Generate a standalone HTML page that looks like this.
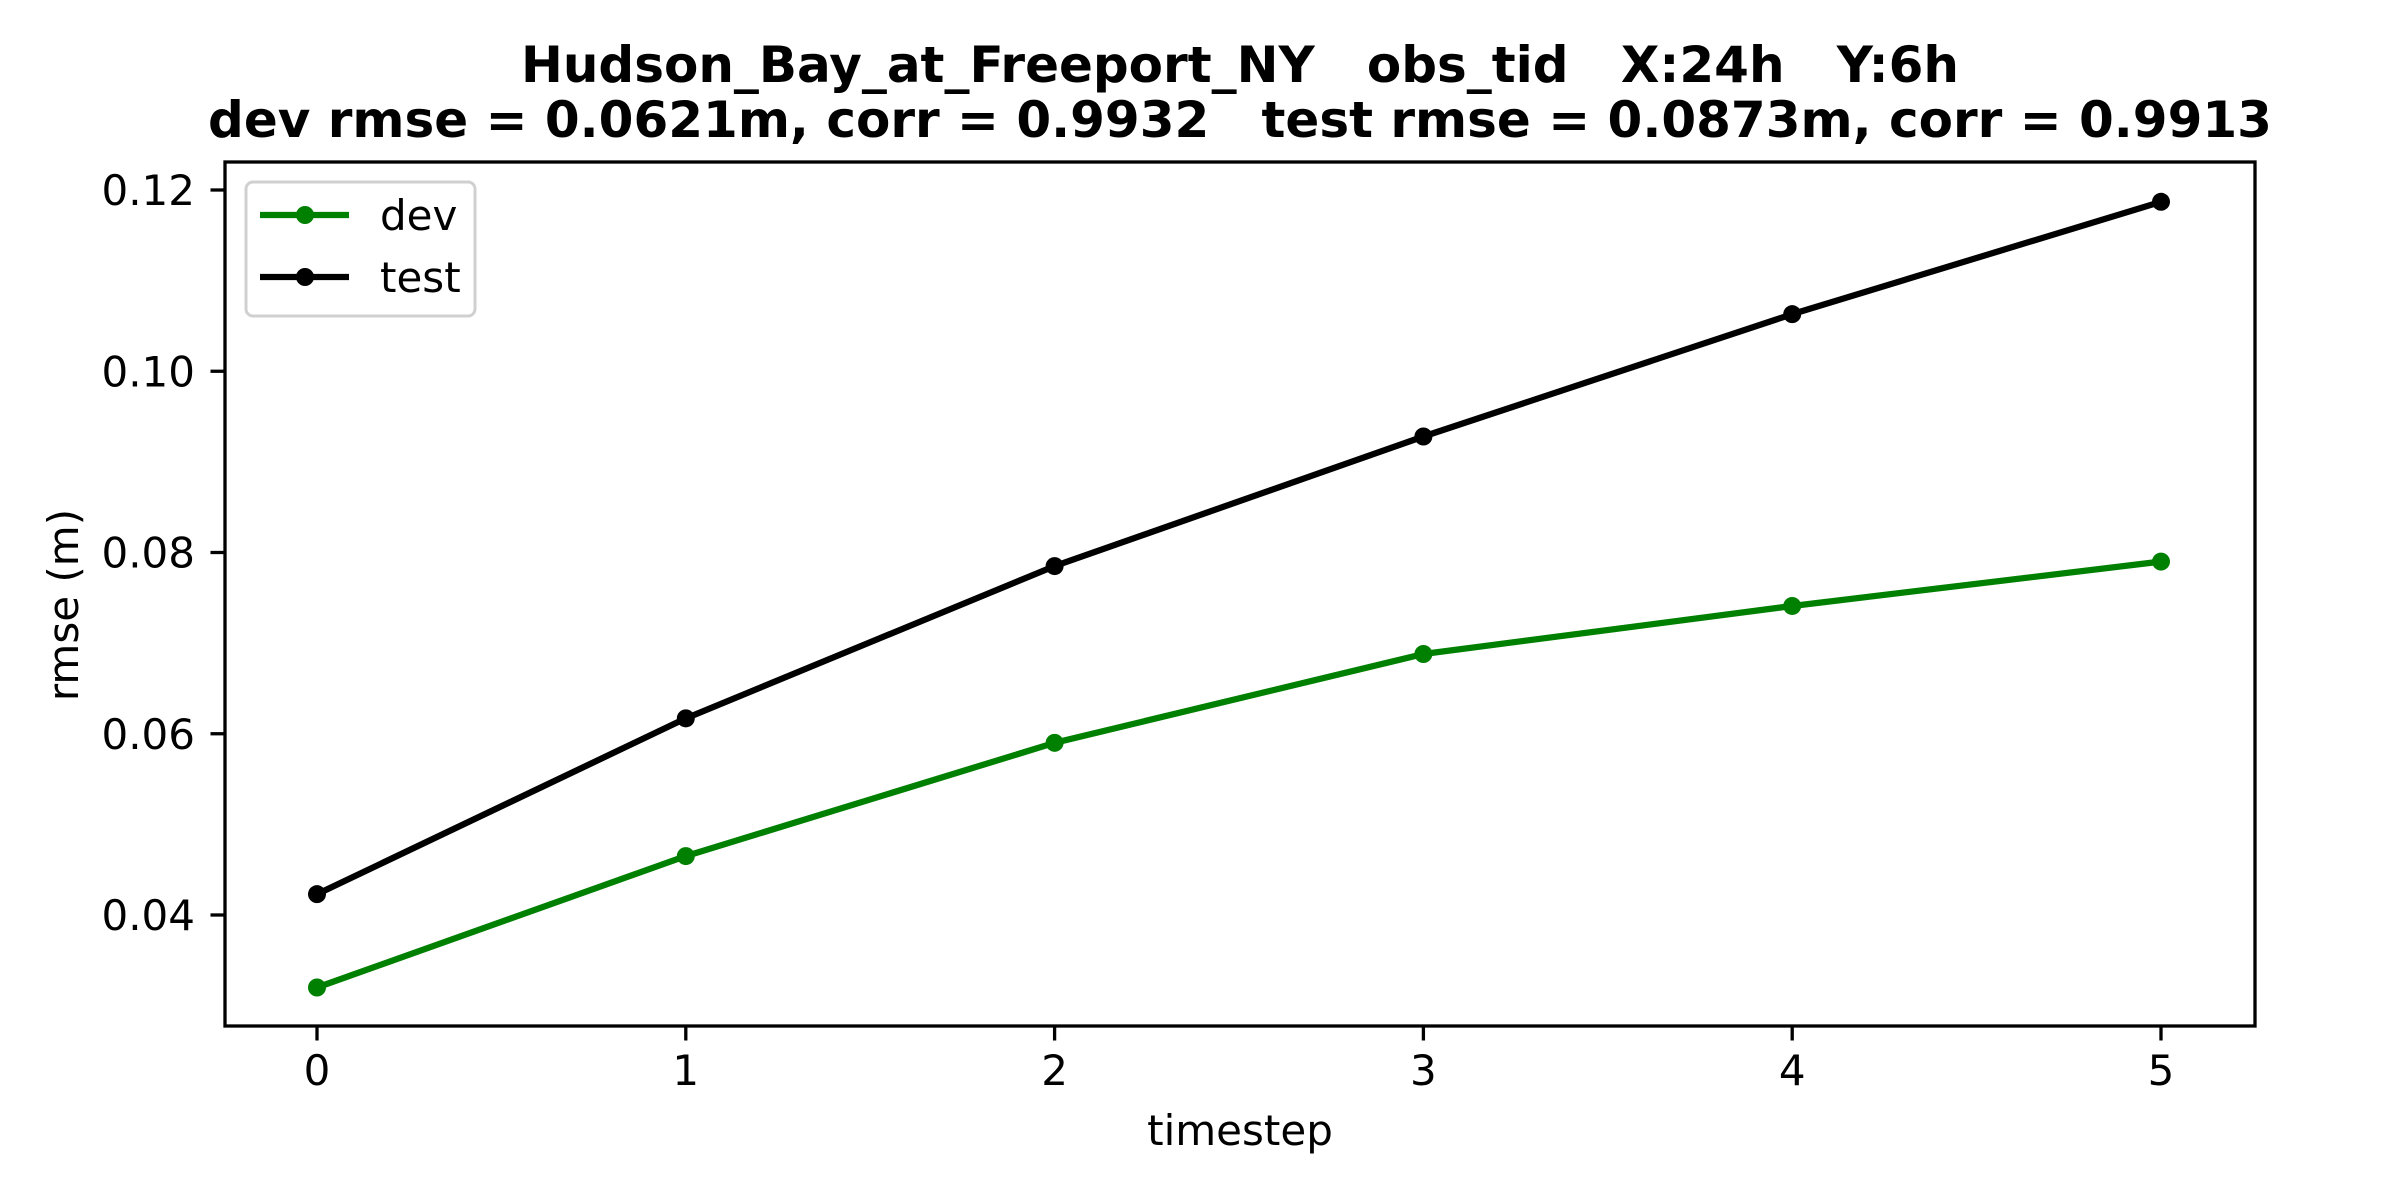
<!DOCTYPE html>
<html><head><meta charset="utf-8"><style>
html,body{margin:0;padding:0;background:#fff;}
svg{display:block;font-family:"DejaVu Sans","Liberation Sans",sans-serif;}
svg text{white-space:pre;}
</style></head><body>
<svg id="chart" width="2400" height="1200" viewBox="0 0 2400 1200">
<rect width="2400" height="1200" fill="#fff"/>
<text x="1240" y="82" text-anchor="middle" font-size="50" font-weight="bold" xml:space="preserve">Hudson_Bay_at_Freeport_NY   obs_tid   X:24h   Y:6h</text>
<text x="1240" y="137" text-anchor="middle" font-size="50" font-weight="bold" xml:space="preserve">dev rmse = 0.0621m, corr = 0.9932   test rmse = 0.0873m, corr = 0.9913</text>
<g id="grid"></g>
<text x="1240" y="1145" text-anchor="middle" font-size="42">timestep</text>
<text transform="translate(78,605) rotate(-90)" text-anchor="middle" font-size="42">rmse (m)</text>
<g>
<rect x="246" y="182" width="229" height="134" rx="7" fill="#fff" fill-opacity="0.8" stroke="#d0d0d0" stroke-width="3"/>
<g>
<line x1="260" y1="215" x2="349" y2="215" stroke="#008000" stroke-width="6.25"/>
<circle cx="305" cy="215" r="9" fill="#008000"/>
<text x="380" y="230" font-size="42">dev</text></g>
<g>
<line x1="260" y1="277" x2="349" y2="277" stroke="#000" stroke-width="6.25"/>
<circle cx="305" cy="277" r="9" fill="#000"/>
<text x="380" y="292" font-size="42">test</text></g>
</g>
</svg>
<script>
const categories = [0, 1, 2, 3, 4, 5];
const devValues = [0.0320, 0.0465, 0.0590, 0.0688, 0.0741, 0.0790];
const testValues = [0.0423, 0.0617, 0.0785, 0.0928, 0.1063, 0.1187];
const yTicks = [0.04, 0.06, 0.08, 0.10, 0.12];
const yTickLabels = ["0.04", "0.06", "0.08", "0.10", "0.12"];
const xTickLabels = ["0", "1", "2", "3", "4", "5"];

const L = 225, R = 2255, T = 162, B = 1026;
const NS = "http://www.w3.org/2000/svg";
function xs(v){ return 317 + (v - 0) * (2161 - 317) / 5; }
function ys(v){ return 915 + (v - 0.04) * (190 - 915) / 0.08; }
const g = document.getElementById('grid');
function mk(tag, attrs){ const e = document.createElementNS(NS, tag); for (const k in attrs) e.setAttribute(k, attrs[k]); g.appendChild(e); return e; }

function series(vals, color, name){
  const pts = categories.map((c,i)=>xs(c)+','+ys(vals[i])).join(' ');
  const pl = mk('polyline', {points: pts, fill: 'none', stroke: color, 'stroke-width': 6.25, 'stroke-linejoin': 'round', 'stroke-linecap': 'square'});
  
  
  categories.forEach((c,i)=>{
    const p = mk('circle', {cx: xs(c), cy: ys(vals[i]), r: 9, fill: color});
    
    
  });
}
series(devValues, '#008000', 'dev');
series(testValues, '#000000', 'test');

const frame = mk('rect', {x: L, y: T, width: R - L, height: B - T, fill: 'none', stroke: '#000', 'stroke-width': 3.3});



yTicks.forEach((v,i)=>{
  const y = ys(v);
  const t = mk('line', {x1: L - 14.5, x2: L, y1: y, y2: y, stroke: '#000', 'stroke-width': 3.3});
  
  
  const lb = mk('text', {x: 195, y: y + 15, 'text-anchor': 'end', 'font-size': 42});
  lb.textContent = yTickLabels[i];
  
  
});
categories.forEach((c,i)=>{
  const x = xs(c);
  const t = mk('line', {x1: x, x2: x, y1: B, y2: B + 14.5, stroke: '#000', 'stroke-width': 3.3});
  
  
  const lb = mk('text', {x: x, y: 1085, 'text-anchor': 'middle', 'font-size': 42});
  lb.textContent = xTickLabels[i];
  
  
});
</script>
</body></html>
